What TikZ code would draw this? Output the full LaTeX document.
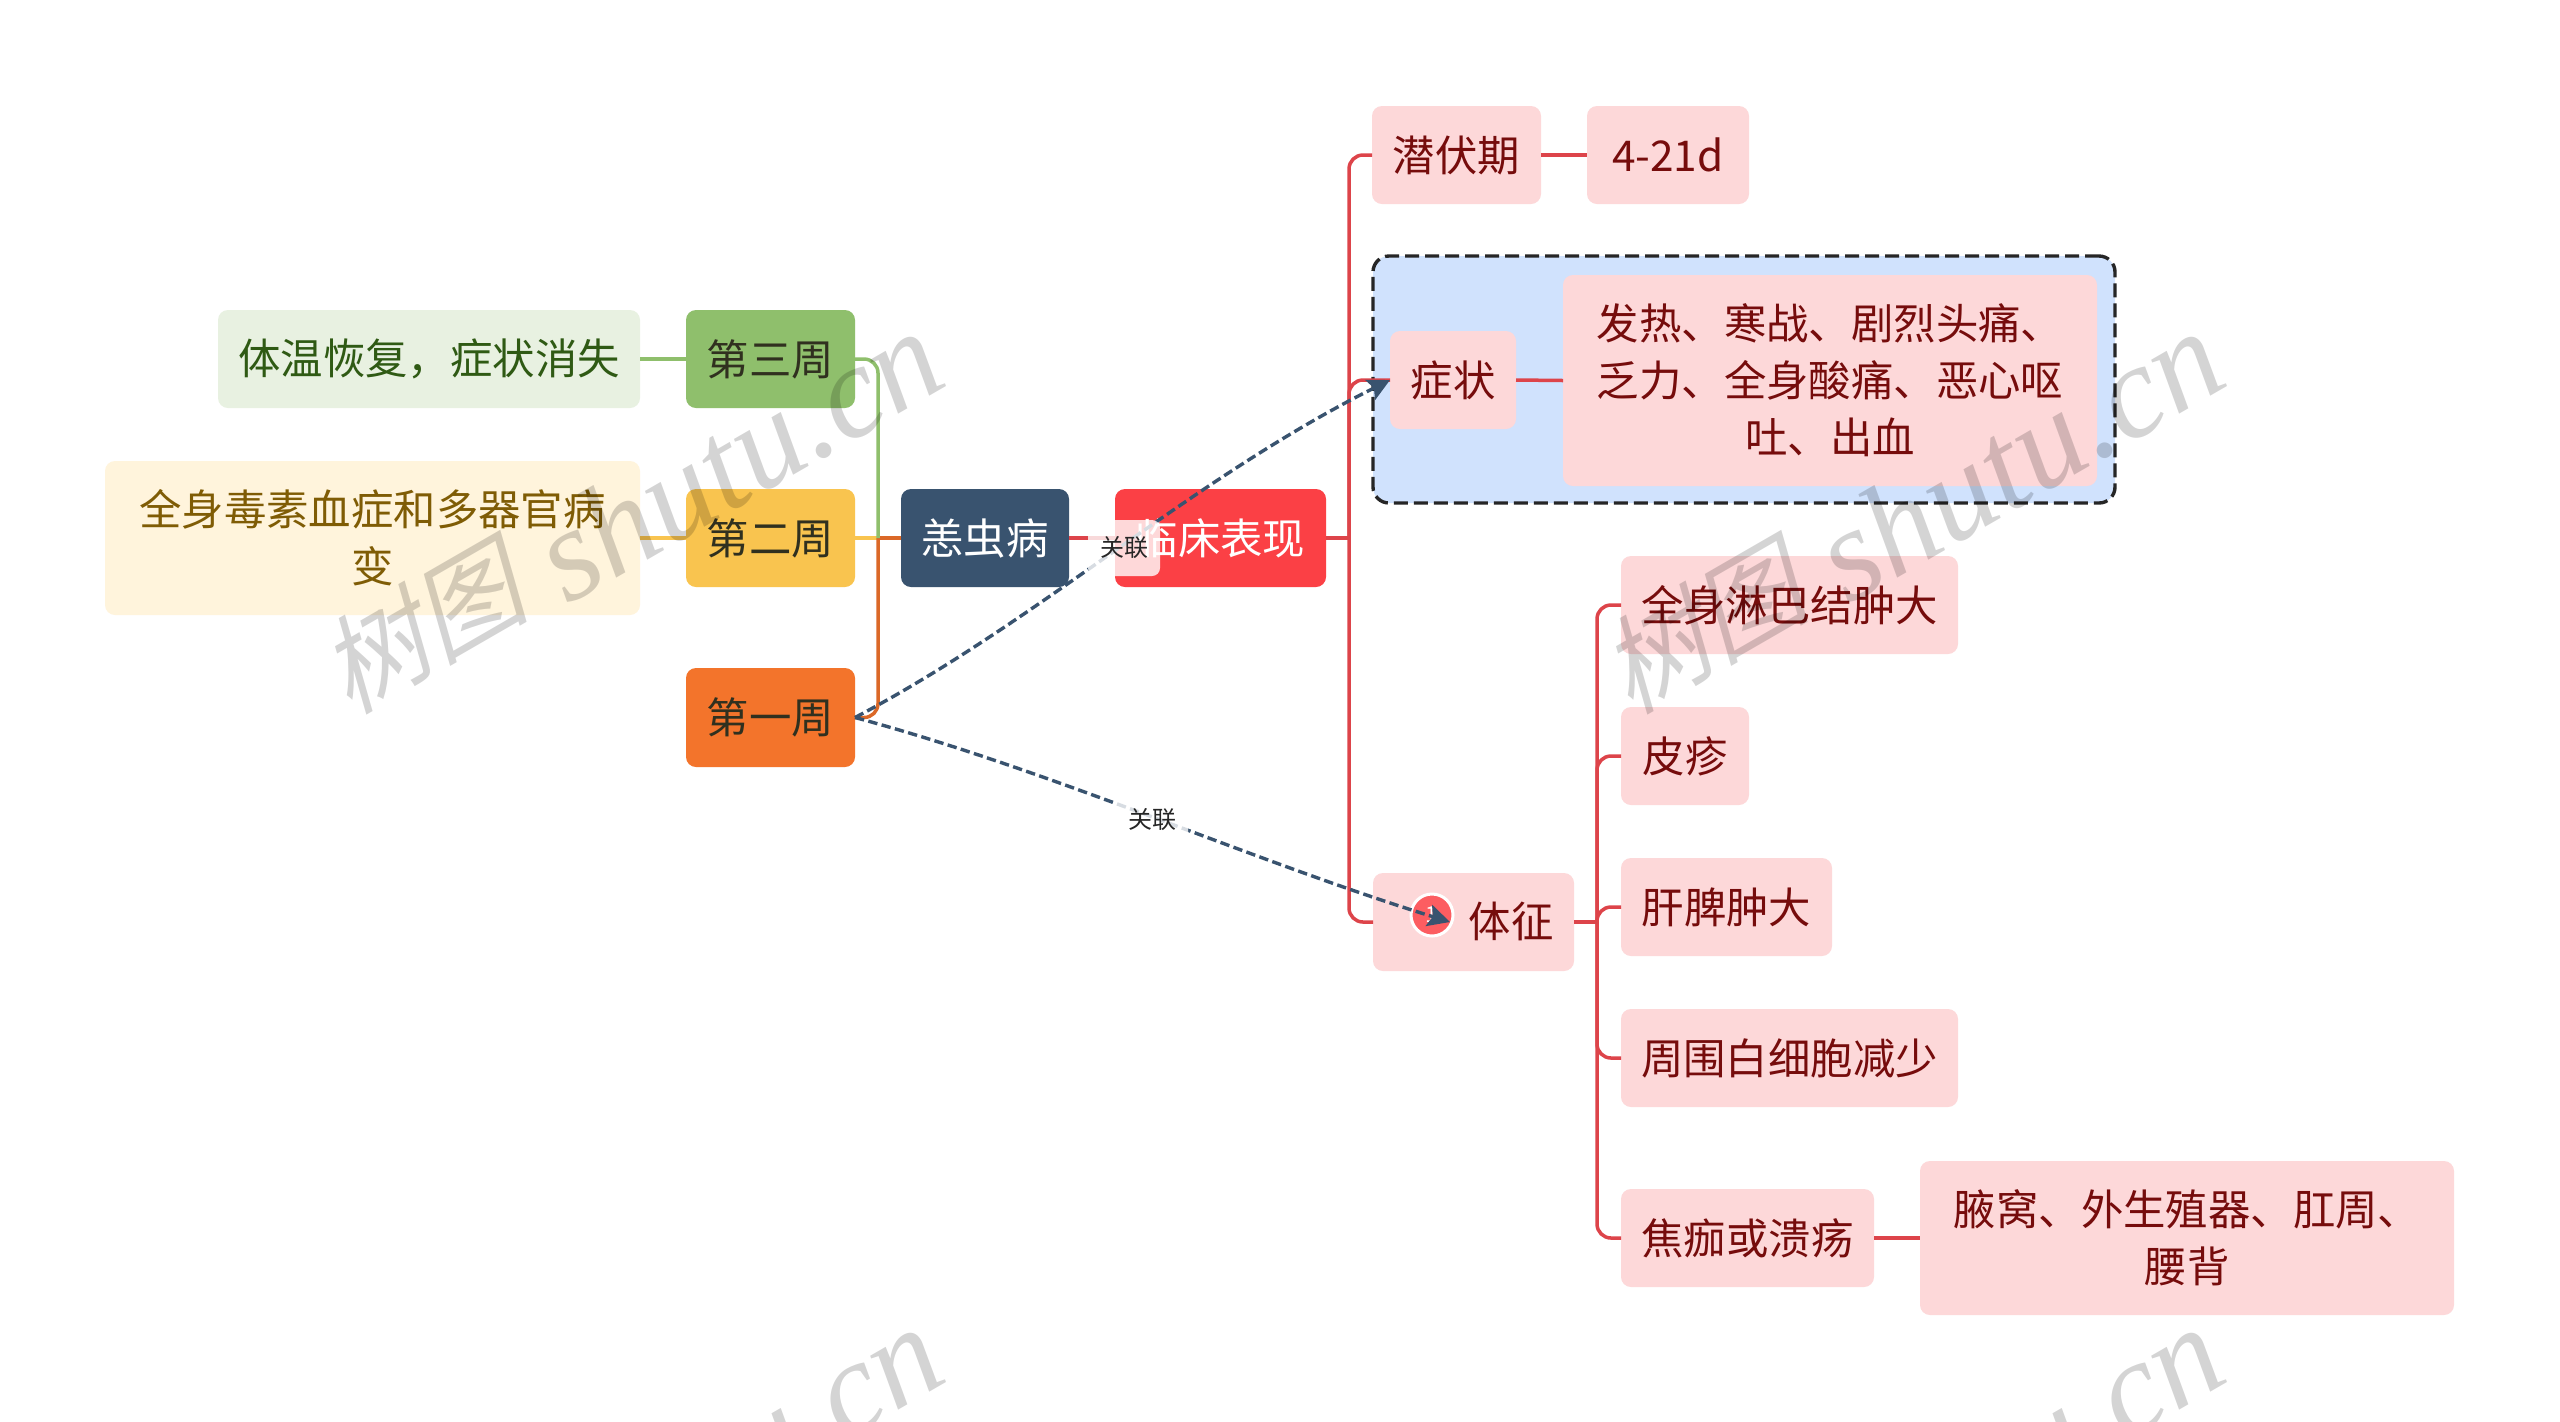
\documentclass[tikz,border=0pt]{standalone}
\usepackage{fontspec}
\setmainfont{Noto Sans CJK SC}
\newfontfamily\wmcjk[FakeSlant=0.25]{Noto Sans CJK SC}
\newfontfamily\wmlat{Liberation Serif}[ItalicFont=* Italic]
\usetikzlibrary{arrows.meta}
\definecolor{cgreen}{HTML}{8FBF6C}
\definecolor{cyellow}{HTML}{F9C44F}
\definecolor{corange}{HTML}{F3742B}
\definecolor{cnavy}{HTML}{39536F}
\definecolor{cred}{HTML}{FB4045}
\definecolor{cpink}{HTML}{FDD8D9}
\definecolor{cmaroon}{HTML}{760C0C}
\definecolor{cpgreen}{HTML}{E8F1E1}
\definecolor{ctgreen}{HTML}{2F5A14}
\definecolor{cpyellow}{HTML}{FFF4DC}
\definecolor{ctyellow}{HTML}{7F5C05}
\definecolor{ctdark}{HTML}{30301F}
\definecolor{cblue}{HTML}{D0E2FD}
\definecolor{cline}{HTML}{DD444A}
\newcommand{\bxn}[7]{\node[#1,minimum width={(#5-#3)*0.5pt},minimum height={(#6-#4)*0.5pt}] (#2) at ({(#3+#5)/2},{(#4+#6)/2}) {#7};}
\newcommand{\wmtext}{\raisebox{7pt}{\wmcjk\fontsize{53}{56}\selectfont 树图}\hspace{14pt} {\wmlat\itshape\fontsize{66}{70}\selectfont shutu.cn}}
\tikzset{
  basebox/.style={inner sep=0pt,outer sep=0pt,rounded corners=5pt,align=center,font=\fontsize{21.2}{28.5}\selectfont},
  weekg/.style={basebox,fill=cgreen,text=ctdark},
  weeky/.style={basebox,fill=cyellow,text=ctdark},
  weeko/.style={basebox,fill=corange,text=ctdark},
  rootbox/.style={basebox,fill=cnavy,text=white},
  clinbox/.style={basebox,fill=cred,text=white},
  pinkbox/.style={basebox,fill=cpink,text=cmaroon},
  lgreen/.style={basebox,fill=cpgreen,text=ctgreen},
  lyellow/.style={basebox,fill=cpyellow,text=ctyellow},
  plainlabel/.style={inner sep=0pt,outer sep=0pt,text=cmaroon,font=\fontsize{21.2}{28.5}\selectfont},
  frame/.style={draw=black!85,line width=1.7pt,dash pattern=on 7pt off 3pt,fill=cblue,rounded corners=8pt,inner sep=0pt,outer sep=0pt},
  conn/.style={line width=1.75pt,rounded corners=7pt},
  rel/.style={draw=cnavy,line width=1.7pt,dash pattern=on 4.7pt off 2.2pt,-{Stealth[length=11pt,width=11pt,inset=2pt,sep=0pt]}},
  rellabel/.style={fill=white,fill opacity=.8,text opacity=1,rounded corners=4pt,inner sep=0pt,outer sep=0pt,minimum width=36pt,minimum height=28pt,font=\fontsize{12}{14}\selectfont,text=black!85},
  mark1/.style={circle,fill=cred!85!white,draw=white,line width=1.5pt,minimum size=21pt,inner sep=0pt,text=white,font=\fontsize{11}{12}\selectfont},
  wm/.style={rotate=30,text=black,opacity=.17,inner sep=0pt,anchor=base}
}
\begin{document}
\begin{tikzpicture}[x=0.5pt,y=-0.5pt]
\useasboundingbox[fill=white] (0,0) rectangle (2560,1421);
\clip (0,0) rectangle (2560,1421);
% container
\bxn{frame}{group}{1373}{256}{2115}{503}{}
% spine coordinates
\coordinate (spineL) at (878,538);
\coordinate (spineR) at (1349,538);
\coordinate (spineS) at (1597,922);
% nodes
\bxn{lgreen}{tg}{218}{310}{640}{408}{体温恢复，症状消失}
\bxn{lyellow}{ty}{105}{461}{640}{615}{全身毒素血症和多器官病\\变}
\bxn{weekg}{w3}{686}{310}{855}{408}{第三周}
\bxn{weeky}{w2}{686}{489}{855}{587}{第二周}
\bxn{weeko}{w1}{686}{668}{855}{767}{第一周}
\bxn{rootbox}{root}{901}{489}{1069}{587}{恙虫病}
\bxn{clinbox}{clin}{1115}{489}{1326}{587}{临床表现}
\bxn{pinkbox}{latent}{1372}{106}{1541}{204}{潜伏期}
\bxn{pinkbox}{days}{1587}{106}{1749}{204}{4-21d}
\bxn{pinkbox}{sym}{1390}{331}{1516}{429}{症状}
\bxn{pinkbox}{symt}{1563}{275}{2097}{486}{发热、寒战、剧烈头痛、\\乏力、全身酸痛、恶心呕\\吐、出血}
\bxn{pinkbox}{sign}{1373}{873}{1574}{971}{}
\node[plainlabel] (signt) at (1511,921) {体征};
\bxn{pinkbox}{s1}{1621}{556}{1958}{654}{全身淋巴结肿大}
\bxn{pinkbox}{s2}{1621}{707}{1749}{805}{皮疹}
\bxn{pinkbox}{s3}{1621}{858}{1832}{956}{肝脾肿大}
\bxn{pinkbox}{s4}{1621}{1009}{1958}{1107}{周围白细胞减少}
\bxn{pinkbox}{s5}{1621}{1189}{1874}{1287}{焦痂或溃疡}
\bxn{pinkbox}{s5t}{1920}{1161}{2454}{1315}{腋窝、外生殖器、肛周、\\腰背}
\node[mark1] (icon) at (1432,915) {1};
% connectors
\draw[conn,draw=cgreen] (tg.east) -- (w3.west);
\draw[conn,draw=cyellow] (ty.east) -- (w2.west);
\draw[conn,draw=cyellow] (w2.east) -- (spineL);
\draw[conn,draw=corange!90!black] (w1.east) -| (spineL);
\draw[conn,draw=corange!90!black] (spineL) -- (root.west);
\draw[conn,draw=cgreen] (w3.east) -| (spineL);
\draw[conn,draw=cline] (root.east) -- (clin.west);
\draw[conn,draw=cline] (clin.east) -- (spineR);
\draw[conn,draw=cline] (spineR) |- (latent.west);
\draw[conn,draw=cline] (spineR) |- (sym.west);
\draw[conn,draw=cline] (spineR) |- (sign.west);
\draw[conn,draw=cline] (latent.east) -- (days.west);
\draw[conn,draw=cline] (sym.east) -- (symt.west);
\draw[conn,draw=cline] (sign.east) -- (spineS);
\draw[conn,draw=cline] (spineS) |- (s1.west);
\draw[conn,draw=cline] (spineS) |- (s2.west);
\draw[conn,draw=cline] (spineS) |- (s3.west);
\draw[conn,draw=cline] (spineS) |- (s4.west);
\draw[conn,draw=cline] (spineS) |- (s5.west);
\draw[conn,draw=cline] (s5.east) -- (s5t.west);
% relations
\coordinate (signin) at (1450,922);
\draw[rel] (w1.east) .. controls (1040,620) and (1190,480) .. (sym.west);
\draw[rel] (w1.east) .. controls (1050,770) and (1250,860) .. (signin);
\node[rellabel] (lab1) at (1124,548) {关联};
\node[rellabel] (lab2) at (1152,820) {关联};
% watermark
\node[wm] (wma) at (654,556) {\wmtext};
\node[wm] (wmb) at (1935,556) {\wmtext};
\node[wm] (wmc) at (654,1552) {\wmtext};
\node[wm] (wmd) at (1935,1552) {\wmtext};
\end{tikzpicture}
\end{document}
